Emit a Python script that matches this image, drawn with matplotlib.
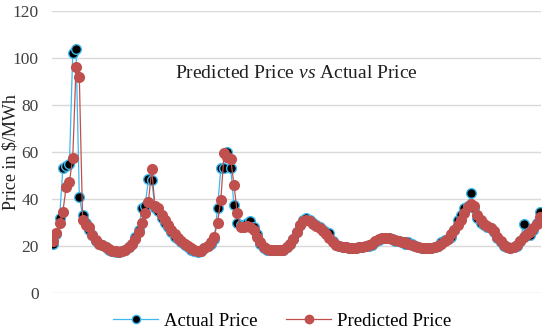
import matplotlib
matplotlib.use("Agg")
import matplotlib.pyplot as plt
from matplotlib.lines import Line2D

plt.rcParams['font.family'] = ['Liberation Serif', 'DejaVu Serif']
plt.rcParams['mathtext.fontset'] = 'custom'
plt.rcParams['mathtext.rm'] = 'Liberation Serif'
plt.rcParams['mathtext.it'] = 'Liberation Serif:italic'

actual_price = [
    21, 25, 32, 53, 54, 55, 102, 104, 41, 33,
    30, 27, 24.7, 22, 21, 20.4, 19.5, 18.5, 18, 17.5,
    17.5, 18, 18.5, 19.5, 21, 24, 27, 36, 37, 48.5,
    48, 36, 35, 32, 30, 28, 26, 24, 23, 21.5,
    20.5, 19.5, 18.5, 18, 17.5, 18, 19, 20, 21, 23,
    36, 53, 53, 60, 53, 37.4, 30, 29, 29, 30,
    30.5, 28, 25, 21, 19, 18.5, 18.3, 18.3, 18.3, 18.3,
    18.5, 19.5, 21, 23, 26, 29, 31, 32, 31, 30,
    29, 28, 27, 26, 25.5, 22, 20.5, 20, 19.5, 19.5,
    19, 19, 19, 19.5, 19.5, 20, 20, 20.5, 21.5, 22.5,
    23.5, 23.5, 23.5, 23, 22, 22, 21.5, 21, 21.5, 21,
    20, 19.5, 19, 19, 19, 19, 19.5, 20, 21.5, 22.5,
    23, 24, 27, 31, 33, 36, 37, 42.5, 36, 32,
    30, 29, 28, 27.5, 26, 23.5, 21.5, 20, 19.5, 19,
    19.5, 20, 22, 29.5, 25, 24.5, 27, 30, 34.5,
]

predicted_price = [
    22, 25.5, 30, 34.6, 45, 47.4, 57.4, 96, 92, 31,
    29, 28, 24.5, 22.5, 21, 20.5, 19.5, 18.8, 18, 17.8,
    17.5, 18, 18.5, 19.5, 21, 23, 26, 30, 34, 38.7,
    52.8, 37, 36, 33, 31, 29, 27, 25, 23.4, 22,
    21, 20, 19, 18.3, 17.8, 18, 19, 20, 21.5, 24,
    30, 39.6, 59.6, 58, 57, 46, 34, 28, 28, 28.5,
    28, 27, 24, 21.5, 19.5, 18.8, 18.5, 18.5, 18.5, 18.5,
    18.5, 19.5, 21, 23, 26, 29, 30.5, 31, 30.5, 29.5,
    28.5, 27.5, 26.5, 25, 23.5, 21.5, 20.5, 20, 19.5, 19.5,
    19.2, 19.2, 19.2, 19.5, 19.5, 20, 20.5, 21, 22, 23,
    23.5, 23.5, 23.5, 23, 22.5, 22, 21.5, 21.5, 21, 20.5,
    20, 19.5, 19, 19, 19, 19, 19.5, 20, 21, 22,
    23, 25, 27, 29, 31, 34, 36.6, 38, 37, 33,
    31, 29.5, 28.5, 27.5, 26.5, 24, 22, 20.5, 19.5, 19,
    19.5, 20.5, 22, 24, 25, 26, 27.5, 29.5, 32.5,
]

y_ticks = [0, 20, 40, 60, 80, 100, 120]
series_names = ["Actual Price", "Predicted Price"]

blue = "#3FB8EE"
red = "#C0504D"

fig = plt.figure(figsize=(5.5, 3.33), dpi=100)
ax = fig.add_axes([52/550, 1 - 293/333, (541 - 52)/550, (293 - 11)/333])

x = list(range(len(actual_price)))
ax.plot(x, actual_price, color=blue, lw=0.9, marker='o', markersize=7,
        markerfacecolor='black', markeredgecolor=blue, markeredgewidth=1.0, zorder=3)
ax.plot(x, predicted_price, color=red, lw=0.9, marker='o', markersize=8,
        markerfacecolor=red, markeredgecolor=red, markeredgewidth=0, zorder=4)

ax.set_ylim(0, 120)
ax.set_xlim(-0.3, len(actual_price) - 1 + 0.3)
ax.set_yticks(y_ticks)
ax.set_xticks([])
ax.grid(axis='y', color='#D9D9D9', lw=1.0, zorder=0)
ax.set_axisbelow(True)
for s in ax.spines.values():
    s.set_visible(False)
ax.tick_params(axis='y', length=0, pad=9.5, labelsize=12.5, labelcolor='#404040')
ax.set_ylabel("Price in $/MWh", fontsize=13, color='#202020')
ax.yaxis.set_label_coords(-0.066, 0.5)

ax.text(0.5, 0.78, r"Predicted Price $\mathit{vs}$ Actual Price", transform=ax.transAxes,
        ha='center', va='center', fontsize=14, color='#202020')

handles = [
    Line2D([], [], color=blue, lw=0.9, marker='o', markersize=6,
           markerfacecolor='black', markeredgecolor=blue),
    Line2D([], [], color=red, lw=0.9, marker='o', markersize=6,
           markerfacecolor=red, markeredgecolor=red),
]
fig.legend(handles, series_names, loc='center', bbox_to_anchor=(0.513, 1 - 321/333),
           ncol=2, frameon=False, fontsize=13.5, handlelength=2.4, columnspacing=1.55,
           handletextpad=0.3)

fig.savefig("out.png", dpi=100)
